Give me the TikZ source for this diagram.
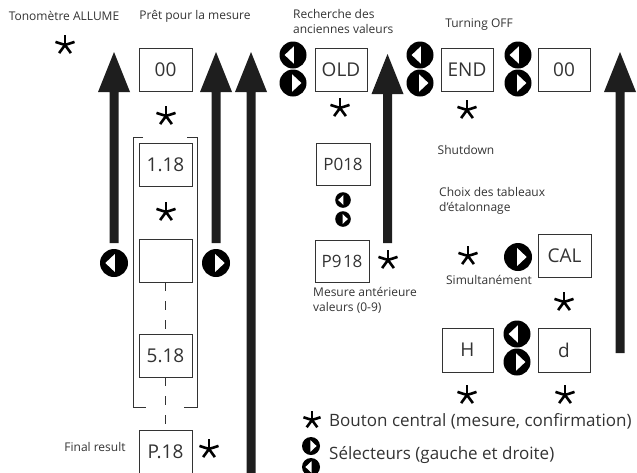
\documentclass[tikz,border=0pt]{standalone}
\usepackage{fontspec}
\setmainfont{Open Sans}
\definecolor{txtc}{HTML}{333333}
\definecolor{boxc}{HTML}{333333}
\definecolor{arrc}{HTML}{1E1E1E}
\newcommand\bigarrow[3]{%
  \fill[arrc] (#1-4.5,#3) -- (#1-4.5,#2+40) -- (#1-16,#2+40) -- (#1,#2) -- (#1+16,#2+40) -- (#1+4.5,#2+40) -- (#1+4.5,#3) -- cycle;}
\begin{document}
\begin{tikzpicture}[x=1pt,y=-1pt,
  box/.style={draw=boxc, line width=0.9pt, minimum width=53pt, minimum height=43pt, inner sep=0pt, font=\fontsize{19}{19}\selectfont, text=txtc},
  pbox/.style={box, minimum width=54pt, minimum height=42pt, font=\fontsize{17}{17}\selectfont},
  lbl/.style={font=\fontsize{12}{15.5}\selectfont, text=txtc, inner sep=0pt, align=left},
  leg/.style={font=\fontsize{17}{18}\selectfont, text=txtc, inner sep=0pt, anchor=west},
  bracket/.style={draw=boxc, line width=0.9pt},
  dline/.style={draw=boxc, line width=0.9pt, dash pattern=on 9pt off 10pt},
  astk/.pic={\foreach \a in {270,198,342,126,54} \draw[line width=2.6pt, black] (0,0) -- (\a:1);},
  selL/.pic={\fill[black] (0,0) circle (1); \fill[white] (-0.62,0) -- (0.06,-0.64) -- (0.06,0.64) -- cycle;},
  selR/.pic={\fill[black] (0,0) circle (1); \fill[white] (0.62,0) -- (-0.06,-0.64) -- (-0.06,0.64) -- cycle;},
]
\useasboundingbox (0,0) rectangle (637,472);
\clip (0,0) rectangle (637,472);

% top labels
\node[lbl] (tono) at (64,16) {Tonomètre ALLUME};
\node[lbl] (pret) at (195,16) {Prêt pour la mesure};
\node[lbl, anchor=north west] (rech) at (293,9) {Recherche des\\anciennes valeurs};
\node[lbl] (turn) at (479,25) {Turning OFF};
\node[lbl] (shut) at (466,150) {Shutdown};
\node[lbl, anchor=north west] (mesant) at (313,287) {Mesure antérieure\\valeurs (0-9)};
\node[lbl, anchor=north west] (choix) at (439,187) {Choix des tableaux\\d’étalonnage};
\node[lbl] (simul) at (489,280) {Simultanément};
\node[lbl] (final) at (95,447) {Final result};

% boxes
\node[box] (b00a) at (165.5,69.5) {00};
\node[box] (b118) at (165.5,164.5) {1.18};
\node[box] (bblank) at (165.5,260.5) {};
\node[box] (b518) at (165.5,355.5) {5.18};
\node[box] (bP18) at (165.5,451.5) {P.18};
\node[box, minimum width=52pt] (bOLD) at (341,69.5) {OLD};
\node[pbox] (bP018) at (343,164) {P018};
\node[pbox] (bP918) at (342,261) {P9\hspace{1.5pt}18};
\node[box, minimum width=52pt] (bEND) at (467,69.5) {END};
\node[box, minimum width=52pt] (b00b) at (564,69.5) {00};
\node[box] (bCAL) at (564.5,255.5) {CAL};
\node[box, minimum width=51pt, minimum height=44pt] (bH) at (467.5,350) {H};
\node[box, minimum width=52pt, minimum height=44pt] (bd) at (564,350) {d};

% bracket and dashed connections
\draw[bracket] (143,137) -- (133,137) -- (133,407) -- (146,407);
\draw[bracket] (187,137) -- (197,137) -- (197,407) -- (184,407);
\draw[dline] (bblank.south) -- (b518.north);
\draw[dline] (b518.south) -- (bP18.north);

% big arrows
\bigarrow{114}{52}{243}
\bigarrow{216}{52}{243}
\bigarrow{251}{52}{480}
\bigarrow{387.5}{54}{243}
\bigarrow{620}{52}{353}

% selectors
\pic[scale=14] at (114,263) {selL};
\pic[scale=14] at (216,263) {selR};
\pic[scale=13.5] at (293,55) {selL};
\pic[scale=13.5] at (293,83) {selR};
\pic[scale=13.5] at (420,55) {selL};
\pic[scale=13.5] at (420,83) {selR};
\pic[scale=13.5] at (518,55) {selL};
\pic[scale=13.5] at (518,83) {selR};
\pic[scale=7.8] at (343,200) {selL};
\pic[scale=7.8] at (343,219) {selR};
\pic[scale=14] at (518,257) {selR};
\pic[scale=13.5] at (517,334) {selL};
\pic[scale=13.5] at (517,362) {selR};
\pic[scale=9] at (311,446) {selR};
\pic[scale=9] at (311,467) {selL};

% asterisks
\pic[scale=10] at (65,45) {astk};
\pic[scale=10] at (166,116) {astk};
\pic[scale=10] at (166,212) {astk};
\pic[scale=10] at (209,449) {astk};
\pic[scale=10] at (340,108) {astk};
\pic[scale=10] at (467,110) {astk};
\pic[scale=10] at (388,260) {astk};
\pic[scale=10] at (468,256) {astk};
\pic[scale=10] at (564,302) {astk};
\pic[scale=10] at (467,395) {astk};
\pic[scale=10] at (565,395) {astk};
\pic[scale=9] at (312,420) {astk};

% legend
\node[leg] (leg1) at (329,421) {Bouton central (mesure, confirmation)};
\node[leg] (leg2) at (329,455) {Sélecteurs (gauche et droite)};
\end{tikzpicture}
\end{document}
